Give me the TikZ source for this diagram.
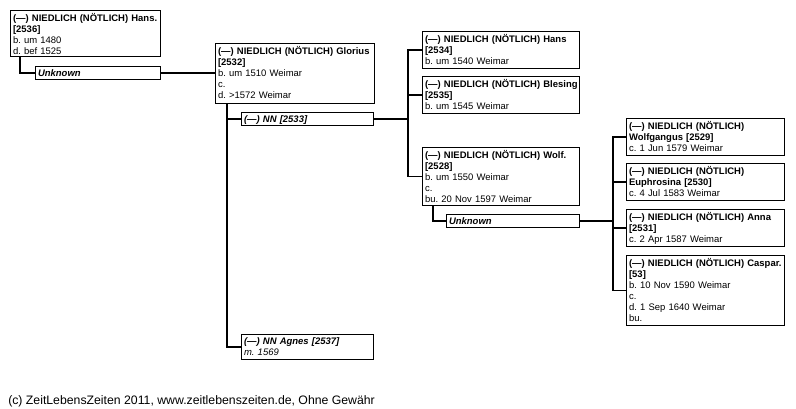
\documentclass[tikz,border=0pt]{standalone}
\usepackage{fontspec}
\setmainfont{Liberation Sans}
\usetikzlibrary{calc}
\frenchspacing
\newcommand\nmline[1]{\mbox{\bfseries #1}}
\newcommand\spline[1]{\mbox{\bfseries\itshape #1}}
\tikzset{
  pw/.code={\pgfmathsetlengthmacro\tmpw{(#1-5)*0.75pt}\tikzset{text width=\tmpw}},
  ph/.code={\pgfmathsetlengthmacro\tmph{#1*0.75pt-8.55pt}\tikzset{text depth=\tmph}},
  sh/.code={\pgfmathsetlengthmacro\tmph{#1*0.75pt-7.4pt}\tikzset{text depth=\tmph}},
  boxbase/.style={draw, line width=0.85pt, inner xsep=1.875pt, inner ysep=0pt,
    anchor=north west, align=left, font=\fontsize{7.1pt}{8.25pt}\selectfont\frenchspacing},
  person/.style={boxbase, text height=8.55pt},
  spouse/.style={boxbase, text height=7.4pt},
  conn/.style={line width=0.85pt},
}
\begin{document}
\begin{tikzpicture}[x=0.75pt,y=-0.75pt]
\path[fill=white, use as bounding box] (0,0) rectangle (796,409);

\node[person,pw=150,ph=46] (hansA) at (10,10) {\nmline{(—) NIEDLICH (NÖTLICH) Hans.}\\\nmline{[2536]}\\b. um 1480\\d. bef 1525};
\node[spouse,pw=125,sh=13] (unk1) at (35,66) {\spline{Unknown}};
\node[person,pw=159,ph=60] (glor) at (215,43) {\nmline{(—) NIEDLICH (NÖTLICH) Glorius}\\\nmline{[2532]}\\b. um 1510 Weimar\\c.\\d. >1572 Weimar};
\node[spouse,pw=132,sh=13] (nn) at (241,112) {\spline{(—) NN [2533]}};
\node[spouse,pw=132,sh=25] (agnes) at (241,334) {\spline{(—) NN Agnes [2537]}\\\textit{m. 1569}};
\node[person,pw=157,ph=37] (hansB) at (422,31) {\nmline{(—) NIEDLICH (NÖTLICH) Hans}\\\nmline{[2534]}\\b. um 1540 Weimar};
\node[person,pw=157,ph=37] (bles) at (422,76) {\nmline{(—) NIEDLICH (NÖTLICH) Blesing}\\\nmline{[2535]}\\b. um 1545 Weimar};
\node[person,pw=157,ph=58] (wolf) at (422,147) {\nmline{(—) NIEDLICH (NÖTLICH) Wolf.}\\\nmline{[2528]}\\b. um 1550 Weimar\\c.\\bu. 20 Nov 1597 Weimar};
\node[spouse,pw=133,sh=13] (unk2) at (446,214) {\spline{Unknown}};
\node[person,pw=158,ph=37] (wgang) at (626,118) {\nmline{(—) NIEDLICH (NÖTLICH)}\\\nmline{Wolfgangus [2529]}\\c. 1 Jun 1579 Weimar};
\node[person,pw=158,ph=37] (euph) at (626,163) {\nmline{(—) NIEDLICH (NÖTLICH)}\\\nmline{Euphrosina [2530]}\\c. 4 Jul 1583 Weimar};
\node[person,pw=158,ph=37] (anna) at (626,209) {\nmline{(—) NIEDLICH (NÖTLICH) Anna}\\\nmline{[2531]}\\c. 2 Apr 1587 Weimar};
\node[person,pw=158,ph=70] (casp) at (626,255) {\nmline{(—) NIEDLICH (NÖTLICH) Caspar.}\\\nmline{[53]}\\b. 10 Nov 1590 Weimar\\c.\\d. 1 Sep 1640 Weimar\\bu.};

\node[anchor=base west, inner sep=0pt, font=\fontsize{9.2pt}{11pt}\selectfont] (foot) at (8,404.5) {(c) ZeitLebensZeiten 2011, www.zeitlebenszeiten.de, Ohne Gewähr};

% connectors
\draw[conn] ($(hansA.south west)+(10,0)$) |- (unk1.west);
\draw[conn] (unk1.east) -- (unk1.east -| glor.west);
\draw[conn] ($(glor.south west)+(12,0)$) |- (agnes.west);
\draw[conn] ($(glor.south west)+(12,0)$) |- (nn.west);

\coordinate (busB) at (408,0);
\draw[conn] (nn.east) -- (nn.east -| busB);
\draw[conn] (hansB.west) -- (hansB.west -| busB) -- (wolf.west -| busB) -- (wolf.west);
\draw[conn] (bles.west) -- (bles.west -| busB);

\draw[conn] ($(wolf.south west)+(11,0)$) |- (unk2.west);

\coordinate (busC) at (613,0);
\draw[conn] (unk2.east) -- (unk2.east -| busC);
\draw[conn] (wgang.west) -- (wgang.west -| busC) -- (casp.west -| busC) -- (casp.west);
\draw[conn] (euph.west) -- (euph.west -| busC);
\draw[conn] (anna.west) -- (anna.west -| busC);
\end{tikzpicture}
\end{document}
